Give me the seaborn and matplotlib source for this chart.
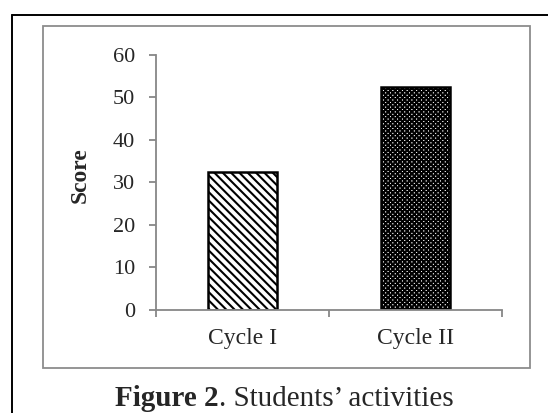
import matplotlib
matplotlib.use("Agg")
import matplotlib.pyplot as plt
import seaborn as sns
from matplotlib.lines import Line2D
from matplotlib.patches import Rectangle

# data
cycles = ["Cycle I", "Cycle II"]
scores = [32.4, 52.3]
hatches = ["\\\\\\\\", "xxxxxxx"]
y_ticks = [0, 10, 20, 30, 40, 50, 60]

sns.set_style("white")
plt.rcParams["font.family"] = ["Liberation Serif", "DejaVu Serif"]
plt.rcParams["hatch.linewidth"] = 1.5

W, H = 548, 413
fig = plt.figure(figsize=(W / 100, H / 100), dpi=100)

def fx(x):
    return x / W

def fy(y):
    return 1 - y / H

ax = fig.add_axes([fx(156), fy(310), fx(502) - fx(156), fy(54.7) - fy(310)])

sns.barplot(x=cycles, y=scores, ax=ax, width=0.4, color="white",
            edgecolor="black", linewidth=1.8, saturation=1)
for bar, h in zip(ax.patches, hatches):
    bar.set_hatch(h)
    bar.set_facecolor("white")

grey = "#878787"
ax.set_ylim(0, 60)
ax.set_xlim(-0.5, 1.5)
ax.set_yticks(y_ticks)
ax.set_xticks([0, 1])
ax.set_xticklabels(cycles)
ax.set_xticks([-0.5, 0.5, 1.5], minor=True)
ax.tick_params(axis="x", which="major", bottom=True, length=0, pad=13, labelsize=17)
ax.tick_params(axis="x", which="minor", bottom=True, length=5, width=1.3, color=grey, direction="out")
ax.tick_params(axis="y", left=True, length=5, width=1.3, color=grey, direction="out", pad=10, labelsize=16)
ax.set_xlabel("")
ax.set_ylabel("")
for s in ["top", "right"]:
    ax.spines[s].set_visible(False)
for s in ["left", "bottom"]:
    ax.spines[s].set_color(grey)
    ax.spines[s].set_linewidth(1.3)

fig.text(fx(80), fy(175), "Score", rotation=90, ha="center", va="center",
         fontsize=17, fontweight="bold")

# grey chart-area box and outer black frame
fig.add_artist(Rectangle((fx(43), fy(368)), fx(530) - fx(43), fy(26) - fy(368),
                         transform=fig.transFigure, fill=False, edgecolor="#8c8c8c", linewidth=1.3))
fig.add_artist(Line2D([fx(12.3), 1], [fy(14.7), fy(14.7)], transform=fig.transFigure,
                      color="black", linewidth=1.4))
fig.add_artist(Line2D([fx(12.3), fx(12.3)], [fy(14.7), 0], transform=fig.transFigure,
                      color="black", linewidth=1.4))

# caption: bold part + regular part
t1 = fig.text(fx(115), fy(406), "Figure 2", fontsize=21, fontweight="bold",
              ha="left", va="baseline")
fig.canvas.draw()
bb = t1.get_window_extent()
fig.text(bb.x1 / W, fy(406), ". Students\u2019 activities", fontsize=21,
         ha="left", va="baseline")

fig.savefig("out.png", dpi=100)
